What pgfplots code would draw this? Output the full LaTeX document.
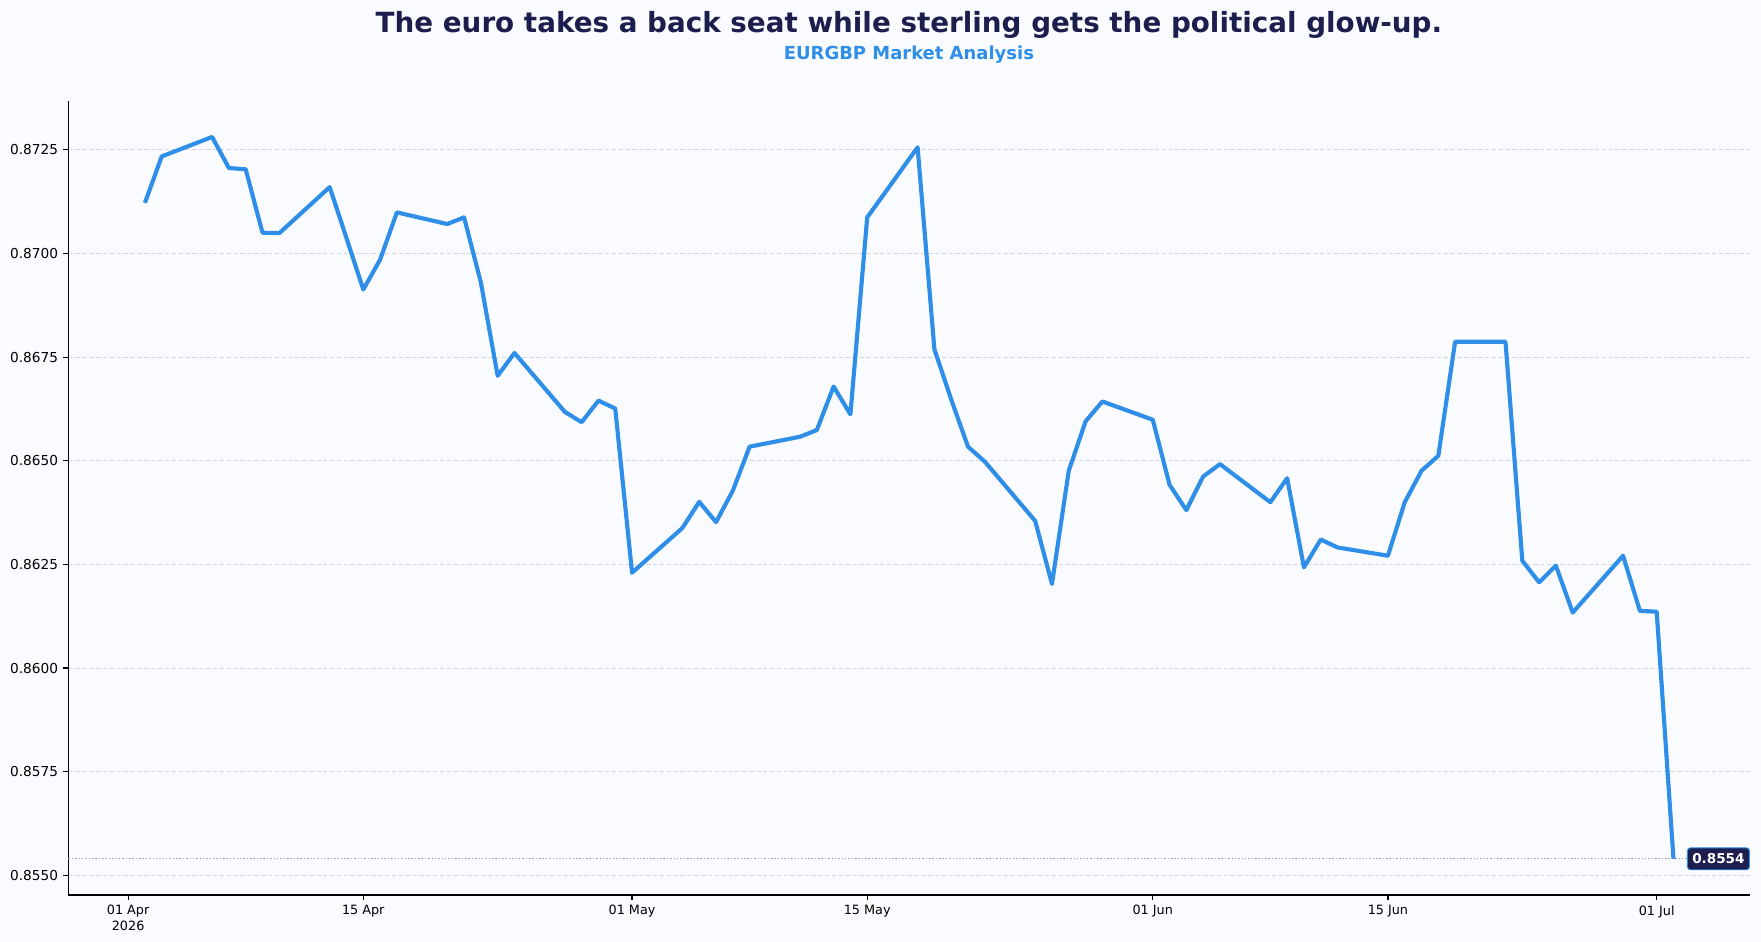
\documentclass[border=0pt]{standalone}
\usepackage{fontspec}
\setmainfont{DejaVu Sans}
\usepackage{pgfplots}
\pgfplotsset{compat=1.18}
\definecolor{linec}{RGB}{46,142,232}
\definecolor{navy}{RGB}{28,30,78}
\definecolor{bgc}{RGB}{250,251,254}
\definecolor{gridc}{RGB}{212,215,222}
\begin{document}
\begin{tikzpicture}[x=1bp,y=1bp]
\fill[bgc] (0,0) rectangle (1152.6,616.5);
\path[use as bounding box] (0,0) rectangle (1152.6,616.5);
\node[anchor=base, text=navy, font=\bfseries\fontsize{18.25}{21}\selectfont] at (594.9,595.1) {The euro takes a back seat while sterling gets the political glow-up.};
\node[anchor=base, text=linec, font=\bfseries\fontsize{11.8}{14}\selectfont] at (594.9,577.7) {EURGBP Market Analysis};
\begin{axis}[
  at={(44.83bp,30.76bp)}, anchor=south west,
  scale only axis, width=1100.5bp, height=519.7bp,
  xmin=-3.55, xmax=96.55, ymin=0.85453, ymax=0.87368,
  axis x line*=bottom, axis y line*=left,
  axis line style={black, line width=0.9bp},
  tick align=outside, major tick length=3.3bp,
  tick style={black, line width=0.8bp},
  xtick={0,14,30,44,61,75,91},
  xticklabels={{01 Apr\\2026},{15 Apr},{01 May},{15 May},{01 Jun},{15 Jun},{01 Jul}},
  xticklabel style={align=center, font=\fontsize{8.4}{10}\selectfont},
  ytick={0.855,0.8575,0.86,0.8625,0.865,0.8675,0.87,0.8725},
  yticklabels={0.8550,0.8575,0.8600,0.8625,0.8650,0.8675,0.8700,0.8725},
  yticklabel style={font=\fontsize{9}{11}\selectfont},
  scaled y ticks=false,
  ymajorgrids,
  major grid style={gridc, line width=0.5bp, dash pattern=on 3bp off 1.5bp},
  clip=false,
]
\addplot[gray!70, line width=0.6bp, dash pattern=on 1bp off 1.2bp, forget plot] coordinates {(-3.55,0.8554) (96.55,0.8554)};
\addplot[linec, line width=2.7bp, line join=round, line cap=butt, mark=none] coordinates {
(1,0.87122) (2,0.87234) (5,0.87281) (6,0.87206) (7,0.87203) (8,0.87050) (9,0.87049)
(12,0.87160) (13,0.87037) (14,0.86913) (15,0.86985) (16,0.87099)
(19,0.87071) (20,0.87087) (21,0.86930) (22,0.86705) (23,0.86760)
(26,0.86618) (27,0.86593) (28,0.86645) (29,0.86626) (30,0.86230)
(33,0.86338) (34,0.86401) (35,0.86352) (36,0.86428) (37,0.86534)
(40,0.86558) (41,0.86574) (42,0.86679) (43,0.86612) (44,0.87087)
(47,0.87256) (48,0.86769) (49,0.86648) (50,0.86534) (51,0.86498)
(54,0.86355) (55,0.86203) (56,0.86476) (57,0.86595) (58,0.86643)
(61,0.86599) (62,0.86442) (63,0.86381) (64,0.86462) (65,0.86492)
(68,0.86400) (69,0.86458) (70,0.86243) (71,0.86310) (72,0.86291)
(75,0.86271) (76,0.86400) (77,0.86476) (78,0.86512) (79,0.86787)
(82,0.86787) (83,0.86259) (84,0.86207) (85,0.86247) (86,0.86134)
(89,0.86271) (90,0.86138) (91,0.86136) (92,0.8554)
};
\node[anchor=west, fill=navy, draw=linec, line width=0.6bp, rounded corners=2bp, text=white,
  font=\bfseries\fontsize{8.9}{10}\selectfont, inner xsep=3.2bp, inner ysep=3.9bp,
  text height=6.5bp, text depth=0bp] at (axis cs:92,0.8554) [xshift=8.8bp] {0.8554};
\end{axis}
\end{tikzpicture}
\end{document}
